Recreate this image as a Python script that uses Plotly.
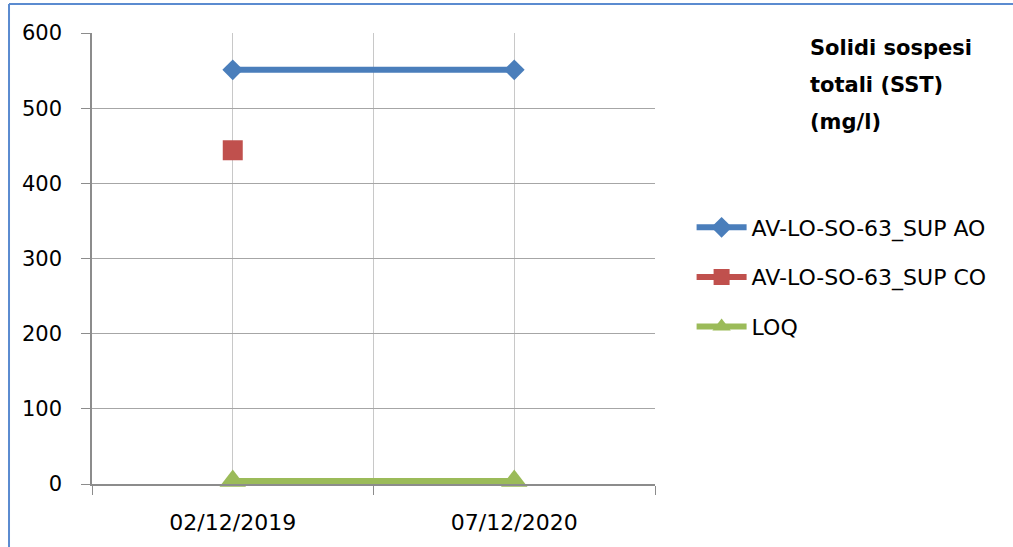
import plotly.graph_objects as go

dates = ["02/12/2019", "07/12/2020"]
ao_values = [551, 551]
co_values = [444, None]
loq_values = [4, 4]
y_ticks = [0, 100, 200, 300, 400, 500, 600]
title_lines = ["Solidi sospesi", "totali (SST)", "(mg/l)"]

xi = list(range(len(dates)))
FONT = "DejaVu Sans, sans-serif"

fig = go.Figure()
fig.add_trace(go.Scatter(x=xi, y=ao_values, name="AV-LO-SO-63_SUP AO", mode="lines+markers",
                         legendgroup="a", cliponaxis=False,
                         line=dict(color="#4A7EBB", width=6),
                         marker=dict(symbol="diamond", size=16, color="#4A7EBB")))
fig.add_trace(go.Scatter(x=xi, y=co_values, name="AV-LO-SO-63_SUP CO", mode="lines+markers",
                         legendgroup="b", cliponaxis=False,
                         line=dict(color="#C0504D", width=6),
                         marker=dict(symbol="square", size=20, color="#C0504D")))
fig.add_trace(go.Scatter(x=xi, y=loq_values, name="LOQ", mode="lines+markers",
                         legendgroup="c", cliponaxis=False,
                         line=dict(color="#9BBB59", width=6),
                         marker=dict(symbol="triangle-up", size=23, color="#9BBB59")))

annotations = []
for i, t in enumerate(title_lines):
    annotations.append(dict(text="<b>" + t + "</b>", xref="paper", yref="paper",
                            x=(808 - 92) / 563, y=(484 - (48 + 37 * i)) / 451,
                            xanchor="left", yanchor="middle", align="left", showarrow=False,
                            font=dict(family=FONT, size=21, color="black")))

fig.update_layout(
    width=1013, height=547,
    margin=dict(l=92, r=358, t=33, b=63),
    paper_bgcolor="white", plot_bgcolor="white",
    font=dict(family=FONT, size=20, color="black"),
    showlegend=True,
    legend=dict(x=1.065, y=0.459, xanchor="left", yanchor="middle",
                font=dict(family=FONT, size=22), tracegroupgap=18,
                itemwidth=50, bgcolor="rgba(0,0,0,0)"),
    xaxis=dict(range=[-0.5, 1.5], tickvals=xi, ticktext=dates, ticks="",
               showgrid=True, gridcolor="#C8C8C8", gridwidth=1,
               showline=True, linecolor="#8C8C8C", linewidth=1.5,
               zeroline=False, tickfont=dict(size=22), ticklabelstandoff=18,
               minor=dict(tickvals=[-0.5, 0.5, 1.5], ticks="outside", ticklen=9,
                          tickcolor="#8C8C8C", showgrid=True, gridcolor="#C8C8C8")),
    yaxis=dict(range=[0, 600], tickvals=y_ticks, ticks="outside", ticklen=9,
               tickcolor="#8C8C8C", showgrid=True, gridcolor="#A6A6A6", gridwidth=1.2,
               showline=True, linecolor="#8C8C8C", linewidth=1.5, zeroline=False,
               tickfont=dict(size=21), ticklabelstandoff=15),
    annotations=annotations,
    shapes=[
        dict(type="line", xref="paper", yref="paper", x0=-0.1474, x1=-0.1474, y0=-0.2, y1=1.0643,
             line=dict(color="#5B8BD0", width=2)),
        dict(type="line", xref="paper", yref="paper", x0=-0.1474, x1=1.7, y0=1.0643, y1=1.0643,
             line=dict(color="#5B8BD0", width=2)),
    ],
)

fig.write_html("out.html", config={"displayModeBar": False},
               post_script="document.body.style.margin='0';")
